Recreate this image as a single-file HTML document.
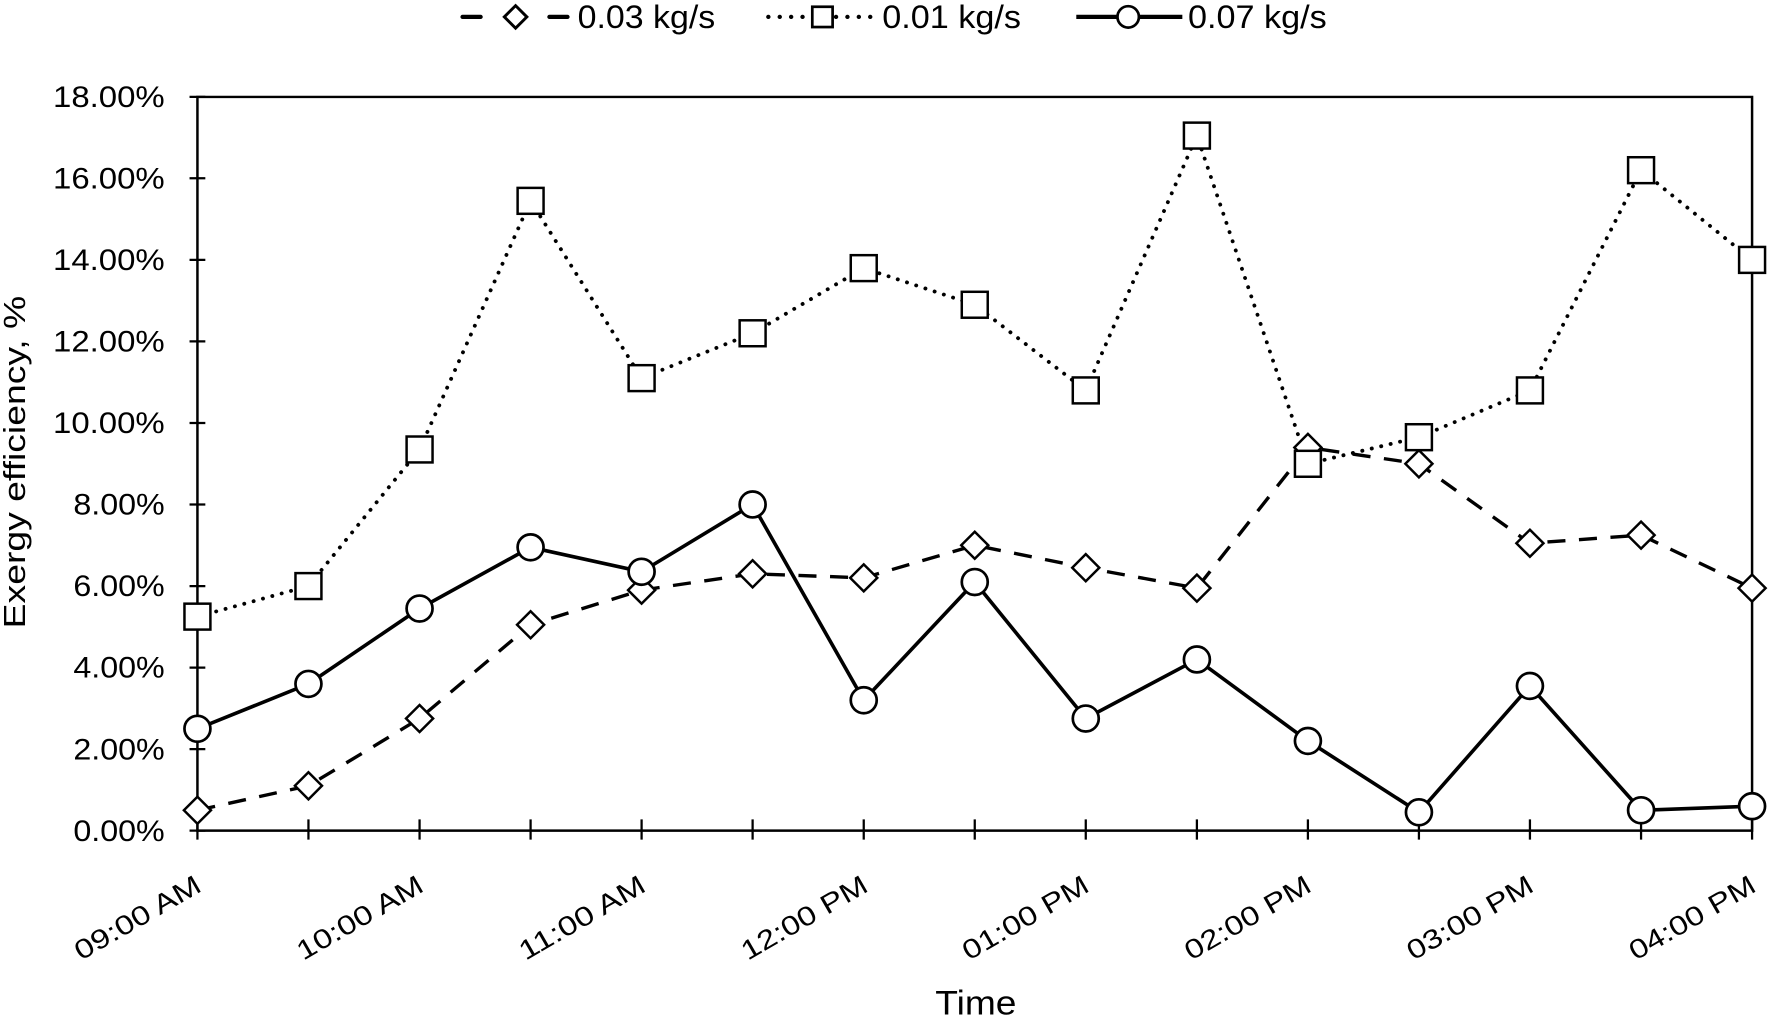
<!DOCTYPE html>
<html><head><meta charset="utf-8"><style>
html,body{margin:0;padding:0;background:#fff;}
svg{display:block;}
text{font-family:"Liberation Sans",Arial,sans-serif;fill:#000;}
</style></head><body>
<svg width="1769" height="1020" viewBox="0 0 1568 905" preserveAspectRatio="none" xmlns="http://www.w3.org/2000/svg">
<defs>
<g id="d"><path d="M0,-12 L12,0 L0,12 L-12,0 Z" fill="#fff" stroke="#000" stroke-width="2.2"/></g>
<g id="s"><rect x="-11.5" y="-11.5" width="23" height="23" fill="#fff" stroke="#000" stroke-width="2.2"/></g>
<g id="c"><circle r="11.5" fill="#fff" stroke="#000" stroke-width="2.4"/></g>
</defs>
<path d="M175,86 H1553 V737 H175 Z" fill="none" stroke="#000" stroke-width="2.2"/>
<g stroke="#000" stroke-width="2">
<path d="M168,737H182M168,664.7H182M168,592.3H182M168,520H182M168,447.6H182M168,375.3H182M168,302.9H182M168,230.6H182M168,158.2H182M168,86H182"/>
<path d="M175,727V745M273.4,727V745M371.9,727V745M470.3,727V745M568.7,727V745M667.1,727V745M765.6,727V745M864,727V745M962.4,727V745M1060.9,727V745M1159.3,727V745M1257.7,727V745M1356.1,727V745M1454.6,727V745M1553,727V745"/>
</g>
<g font-size="26" text-anchor="end">
<text x="146" y="746" textLength="81" lengthAdjust="spacingAndGlyphs">0.00%</text>
<text x="146" y="673.7" textLength="81" lengthAdjust="spacingAndGlyphs">2.00%</text>
<text x="146" y="601.3" textLength="81" lengthAdjust="spacingAndGlyphs">4.00%</text>
<text x="146" y="529" textLength="81" lengthAdjust="spacingAndGlyphs">6.00%</text>
<text x="146" y="456.6" textLength="81" lengthAdjust="spacingAndGlyphs">8.00%</text>
<text x="146" y="384.3" textLength="99" lengthAdjust="spacingAndGlyphs">10.00%</text>
<text x="146" y="311.9" textLength="99" lengthAdjust="spacingAndGlyphs">12.00%</text>
<text x="146" y="239.6" textLength="99" lengthAdjust="spacingAndGlyphs">14.00%</text>
<text x="146" y="167.2" textLength="99" lengthAdjust="spacingAndGlyphs">16.00%</text>
<text x="146" y="95" textLength="99" lengthAdjust="spacingAndGlyphs">18.00%</text>
</g>
<g font-size="24" text-anchor="end">
<text transform="translate(180,790) rotate(-30)" textLength="125" lengthAdjust="spacingAndGlyphs">09:00 AM</text>
<text transform="translate(377,790) rotate(-30)" textLength="125" lengthAdjust="spacingAndGlyphs">10:00 AM</text>
<text transform="translate(574,790) rotate(-30)" textLength="125" lengthAdjust="spacingAndGlyphs">11:00 AM</text>
<text transform="translate(771,790) rotate(-30)" textLength="125" lengthAdjust="spacingAndGlyphs">12:00 PM</text>
<text transform="translate(967,790) rotate(-30)" textLength="125" lengthAdjust="spacingAndGlyphs">01:00 PM</text>
<text transform="translate(1164,790) rotate(-30)" textLength="125" lengthAdjust="spacingAndGlyphs">02:00 PM</text>
<text transform="translate(1361,790) rotate(-30)" textLength="125" lengthAdjust="spacingAndGlyphs">03:00 PM</text>
<text transform="translate(1558,790) rotate(-30)" textLength="125" lengthAdjust="spacingAndGlyphs">04:00 PM</text>
</g>
<text x="865" y="900" font-size="30" text-anchor="middle" textLength="72" lengthAdjust="spacingAndGlyphs">Time</text>
<text transform="translate(22,410) rotate(-90)" font-size="27" text-anchor="middle" textLength="295" lengthAdjust="spacingAndGlyphs">Exergy efficiency, %</text>

<polyline fill="none" stroke="#000" stroke-width="3" stroke-dasharray="16,12" points="175,718.9 273.4,697.2 371.9,637.5 470.3,554.3 568.7,523.6 667.1,509.1 765.6,512.7 864,483.8 962.4,503.7 1060.9,521.8 1159.3,397 1257.7,411.5 1356.1,482 1454.6,474.8 1553,521.8"/>
<polyline fill="none" stroke="#000" stroke-width="3.4" stroke-dasharray="0.1,8.5" stroke-linecap="round" points="175,547.1 273.4,520 371.9,398.8 470.3,178.2 568.7,335.5 667.1,295.7 765.6,237.9 864,270.4 962.4,346.4 1060.9,120.3 1159.3,411.5 1257.7,387.9 1356.1,346.4 1454.6,151 1553,230.6"/>
<polyline fill="none" stroke="#000" stroke-width="3.2" points="175,646.6 273.4,606.8 371.9,539.9 470.3,485.6 568.7,507.3 667.1,447.6 765.6,621.3 864,516.4 962.4,637.5 1060.9,585.1 1159.3,657.4 1257.7,720.7 1356.1,608.6 1454.6,718.9 1553,715.3"/>

<use href="#d" x="175" y="718.9"/><use href="#d" x="273.4" y="697.2"/><use href="#d" x="371.9" y="637.5"/><use href="#d" x="470.3" y="554.3"/><use href="#d" x="568.7" y="523.6"/><use href="#d" x="667.1" y="509.1"/><use href="#d" x="765.6" y="512.7"/><use href="#d" x="864" y="483.8"/><use href="#d" x="962.4" y="503.7"/><use href="#d" x="1060.9" y="521.8"/><use href="#d" x="1159.3" y="397"/><use href="#d" x="1257.7" y="411.5"/><use href="#d" x="1356.1" y="482"/><use href="#d" x="1454.6" y="474.8"/><use href="#d" x="1553" y="521.8"/>
<use href="#s" x="175" y="547.1"/><use href="#s" x="273.4" y="520"/><use href="#s" x="371.9" y="398.8"/><use href="#s" x="470.3" y="178.2"/><use href="#s" x="568.7" y="335.5"/><use href="#s" x="667.1" y="295.7"/><use href="#s" x="765.6" y="237.9"/><use href="#s" x="864" y="270.4"/><use href="#s" x="962.4" y="346.4"/><use href="#s" x="1060.9" y="120.3"/><use href="#s" x="1159.3" y="411.5"/><use href="#s" x="1257.7" y="387.9"/><use href="#s" x="1356.1" y="346.4"/><use href="#s" x="1454.6" y="151"/><use href="#s" x="1553" y="230.6"/>
<use href="#c" x="175" y="646.6"/><use href="#c" x="273.4" y="606.8"/><use href="#c" x="371.9" y="539.9"/><use href="#c" x="470.3" y="485.6"/><use href="#c" x="568.7" y="507.3"/><use href="#c" x="667.1" y="447.6"/><use href="#c" x="765.6" y="621.3"/><use href="#c" x="864" y="516.4"/><use href="#c" x="962.4" y="637.5"/><use href="#c" x="1060.9" y="585.1"/><use href="#c" x="1159.3" y="657.4"/><use href="#c" x="1257.7" y="720.7"/><use href="#c" x="1356.1" y="608.6"/><use href="#c" x="1454.6" y="718.9"/><use href="#c" x="1553" y="715.3"/>

<g stroke="#000" stroke-width="3.8">
<path d="M410,15H426M487,15H503" stroke-linecap="round"/>
<path d="M681,15H712M741,15H774" stroke-dasharray="0.1,10" stroke-linecap="round"/>
<path d="M954,15H1048"/>
</g>
<path d="M457,5 L467,15 L457,25 L447,15 Z" fill="#fff" stroke="#000" stroke-width="2.6"/>
<rect x="720" y="6" width="18" height="18" fill="#fff" stroke="#000" stroke-width="2.4"/>
<circle cx="1000" cy="15" r="9.5" fill="#fff" stroke="#000" stroke-width="2.4"/>
<g font-size="29">
<text x="512" y="25" textLength="122" lengthAdjust="spacingAndGlyphs">0.03 kg/s</text>
<text x="782" y="25" textLength="123" lengthAdjust="spacingAndGlyphs">0.01 kg/s</text>
<text x="1053" y="25" textLength="123" lengthAdjust="spacingAndGlyphs">0.07 kg/s</text>
</g>
</svg>
</body></html>
